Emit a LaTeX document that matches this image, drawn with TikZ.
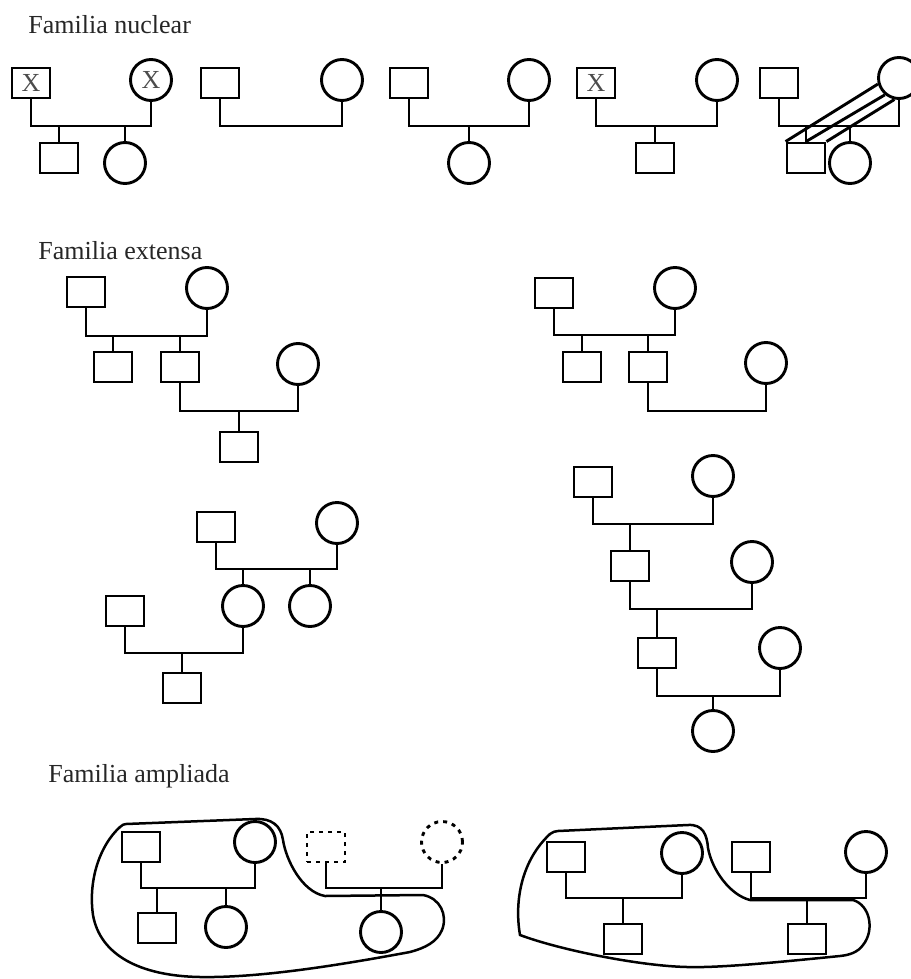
\documentclass[tikz,border=0pt]{standalone}
\usepackage{fontspec}
\setmainfont{Liberation Serif}
\begin{document}
\begin{tikzpicture}[x=1pt,y=-1pt,line width=2.9pt,
	male/.style={shape=rectangle,draw=black,minimum width=38pt,minimum height=30pt,inner sep=0pt,text=black!70,font=\fontsize{26}{26}\selectfont},
	female/.style={shape=circle,draw=black,minimum size=41pt,inner sep=0pt,text=black!70,font=\fontsize{26}{26}\selectfont},
	missing/.style={dash pattern=on 4pt off 5pt},
	heading/.style={anchor=base west,inner sep=0pt,text=black!85,font=\fontsize{26}{30}\selectfont},
	household/.style={line width=2.5pt}]
	\useasboundingbox (0,0) rectangle (910,979);

	\node[heading] (t1) at (27,34)  {Familia nuclear};
	\node[heading] (t2) at (37,259) {Familia extensa};
	\node[heading] (t3) at (47,782) {Familia ampliada};

	% familia nuclear
	\node[male]   (n1p) at (31,83)   {X};
	\node[female] (n1m) at (151,80)  {X};
	\node[male]   (n1s) at (59,158)  {};
	\node[female] (n1d) at (125,163) {};
	\coordinate (n1u) at (90,126);
	\draw (n1p) |- (n1u) -| (n1m);
	\draw (n1s) -- (n1s |- n1u);
	\draw (n1d) -- (n1d |- n1u);

	\node[male]   (n2p) at (220,83) {};
	\node[female] (n2m) at (342,80) {};
	\coordinate (n2u) at (280,126);
	\draw (n2p) |- (n2u) -| (n2m);

	\node[male]   (n3p) at (409,83)  {};
	\node[female] (n3m) at (529,80)  {};
	\node[female] (n3d) at (469,163) {};
	\coordinate (n3u) at (469,126);
	\draw (n3p) |- (n3u) -| (n3m);
	\draw (n3d) -- (n3d |- n3u);

	\node[male]   (n4p) at (596,83)  {X};
	\node[female] (n4m) at (717,80)  {};
	\node[male]   (n4s) at (655,158) {};
	\coordinate (n4u) at (655,126);
	\draw (n4p) |- (n4u) -| (n4m);
	\draw (n4s) -- (n4s |- n4u);

	\node[male]   (n5p) at (779,83)  {};
	\node[female] (n5m) at (899,78)  {};
	\node[male]   (n5s) at (806,158) {};
	\node[female] (n5d) at (850,163) {};
	\coordinate (n5u) at (840,126);
	\draw (n5p) |- (n5u) -| (n5m);
	\draw (n5s) -- (n5s |- n5u);
	\draw (n5d) -- (n5d |- n5u);
	\draw (n5s.north west) -- (n5m.196);
	\draw (n5s.north) -- (n5m.230);
	\draw (n5s.north east) -- (n5m.258);

	% familia extensa
	\node[male]   (a1p) at (86,292)  {};
	\node[female] (a1m) at (207,288) {};
	\node[male]   (a1s) at (113,367) {};
	\node[male]   (a1h) at (180,367) {};
	\node[female] (a1w) at (298,364) {};
	\node[male]   (a1g) at (239,447) {};
	\coordinate (a1u) at (150,336);
	\coordinate (a1v) at (239,411);
	\draw (a1p) |- (a1u) -| (a1m);
	\draw (a1s) -- (a1s |- a1u);
	\draw (a1h) -- (a1h |- a1u);
	\draw (a1h) |- (a1v) -| (a1w);
	\draw (a1g) -- (a1g |- a1v);

	\node[male]   (b1p) at (554,293) {};
	\node[female] (b1m) at (675,288) {};
	\node[male]   (b1s) at (582,367) {};
	\node[male]   (b1h) at (648,367) {};
	\node[female] (b1w) at (766,363) {};
	\coordinate (b1u) at (615,335);
	\coordinate (b1v) at (705,411);
	\draw (b1p) |- (b1u) -| (b1m);
	\draw (b1s) -- (b1s |- b1u);
	\draw (b1h) -- (b1h |- b1u);
	\draw (b1h) |- (b1v) -| (b1w);

	\node[male]   (c1p) at (216,527) {};
	\node[female] (c1m) at (337,523) {};
	\node[female] (c1d) at (243,606) {};
	\node[female] (c1e) at (310,606) {};
	\node[male]   (c1h) at (125,611) {};
	\node[male]   (c1g) at (182,688) {};
	\coordinate (c1u) at (275,569);
	\coordinate (c1v) at (182,653);
	\draw (c1p) |- (c1u) -| (c1m);
	\draw (c1d) -- (c1d |- c1u);
	\draw (c1e) -- (c1e |- c1u);
	\draw (c1h) |- (c1v) -| (c1d);
	\draw (c1g) -- (c1g |- c1v);

	\node[male]   (d1p) at (593,482) {};
	\node[female] (d1m) at (713,476) {};
	\node[male]   (d1s) at (630,566) {};
	\node[female] (d1w) at (752,562) {};
	\node[male]   (d1g) at (657,653) {};
	\node[female] (d1x) at (780,648) {};
	\node[female] (d1z) at (713,731) {};
	\coordinate (d1u) at (630,524);
	\coordinate (d1v) at (657,609);
	\coordinate (d1w') at (713,696);
	\draw (d1p) |- (d1u) -| (d1m);
	\draw (d1s) -- (d1s |- d1u);
	\draw (d1s) |- (d1v) -| (d1w);
	\draw (d1g) -- (d1g |- d1v);
	\draw (d1g) |- (d1w') -| (d1x);
	\draw (d1z) -- (d1z |- d1w');

	% familia ampliada
	\node[male]   (g1p) at (141,847) {};
	\node[female] (g1m) at (255,842) {};
	\node[male]   (g1s) at (157,928) {};
	\node[female] (g1d) at (226,927) {};
	\node[male,missing]   (g1x) at (326,847) {};
	\node[female,missing] (g1y) at (442,842) {};
	\node[female] (g1z) at (381,932) {};
	\coordinate (g1u) at (190,888);
	\coordinate (g1v) at (381,888);
	\draw (g1p) |- (g1u) -| (g1m);
	\draw (g1s) -- (g1s |- g1u);
	\draw (g1d) -- (g1d |- g1u);
	\draw (g1x) |- (g1v) -| (g1y);
	\draw (g1z) -- (g1z |- g1v);
	\draw[household] (126,824) -- (255,819)
		.. controls (272,818) and (281,826) .. (283,840)
		.. controls (286,860) and (302,892) .. (325,896) -- (423,895)
		.. controls (440,898) and (448,915) .. (442,930)
		.. controls (437,942) and (425,948) .. (410,952)
		.. controls (340,965) and (260,978) .. (200,977)
		.. controls (140,976) and (100,955) .. (93,915)
		.. controls (88,880) and (100,845) .. (120,827)
		.. controls (122,825) and (124,824) .. (126,824) -- cycle;

	\node[male]   (h1p) at (566,857) {};
	\node[female] (h1m) at (682,853) {};
	\node[male]   (h1s) at (623,939) {};
	\node[male]   (h1q) at (751,857) {};
	\node[female] (h1r) at (866,852) {};
	\node[male]   (h1t) at (807,939) {};
	\coordinate (h1u) at (623,898);
	\coordinate (h1v) at (807,898);
	\draw (h1p) |- (h1u) -| (h1m);
	\draw (h1s) -- (h1s |- h1u);
	\draw (h1q) |- (h1v) -| (h1r);
	\draw (h1t) -- (h1t |- h1v);
	\draw[household] (558,831) -- (688,825)
		.. controls (703,824) and (707,835) .. (708,848)
		.. controls (712,870) and (730,895) .. (750,900) -- (853,900)
		.. controls (870,905) and (875,930) .. (863,945)
		.. controls (858,952) and (850,955) .. (840,956)
		.. controls (780,962) and (720,968) .. (687,967)
		.. controls (640,966) and (560,950) .. (520,935)
		.. controls (514,900) and (522,860) .. (550,834)
		.. controls (553,832) and (555,831) .. (558,831) -- cycle;
\end{tikzpicture}
\end{document}
